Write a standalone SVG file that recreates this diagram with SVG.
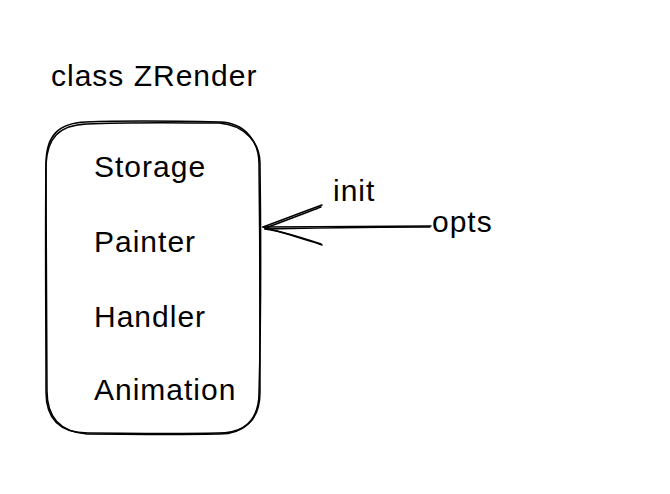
<svg xmlns="http://www.w3.org/2000/svg" width="670" height="494" viewBox="0 0 670 494">
<style>
  text { font-family: "Liberation Sans", Arial, Helvetica, sans-serif; font-size: 30px; fill: #000; letter-spacing: 1px; }
  .stroke { fill: none; stroke: #000; stroke-width: 1.5; stroke-linecap: round; stroke-linejoin: round; }
</style>
<rect width="670" height="494" fill="#fff"/>
<g id="title">
  <text x="51" y="86">class ZRender</text>
</g>
<g id="zrender">
  <path class="stroke" d="M86,122 C130,120 180,121 220,122 C246,123 259,142 259,164 C260,240 260,320 260,392 C260,420 246,433 218,433 C170,434 120,433 88,433 C58,433 46,418 46,392 C46,320 45,240 46,164 C46,136 58,123 86,122 Z"/>
  <path class="stroke" d="M87,124 C130,122 180,123 219,123 C245,125 261,143 260,166 C261,240 261,320 259,393 C259,419 244,435 217,434 C170,435 120,434 87,434 C59,432 47,417 47,391 C47,320 46,240 46,165 C47,138 59,125 87,124 Z"/>
  <text x="94" y="177">Storage</text>
  <text x="94" y="252">Painter</text>
  <text x="94" y="327">Handler</text>
  <text x="94" y="400">Animation</text>
</g>
<g id="connectors">
  <path class="stroke" d="M431,226 C380,226 320,227 264,227"/>
  <path class="stroke" d="M430,227 C380,227 320,228 265,229"/>
  <path class="stroke" d="M322,205 C300,213 282,220 263,227"/>
  <path class="stroke" d="M321,207 C300,215 282,222 265,228"/>
  <path class="stroke" d="M322,245 C300,238 282,232 263,227"/>
  <path class="stroke" d="M321,244 C300,237 282,231 265,229"/>
</g>
<g id="label-init">
  <text x="333" y="201">init</text>
</g>
<g id="label-opts">
  <text x="432" y="232">opts</text>
</g>
</svg>
